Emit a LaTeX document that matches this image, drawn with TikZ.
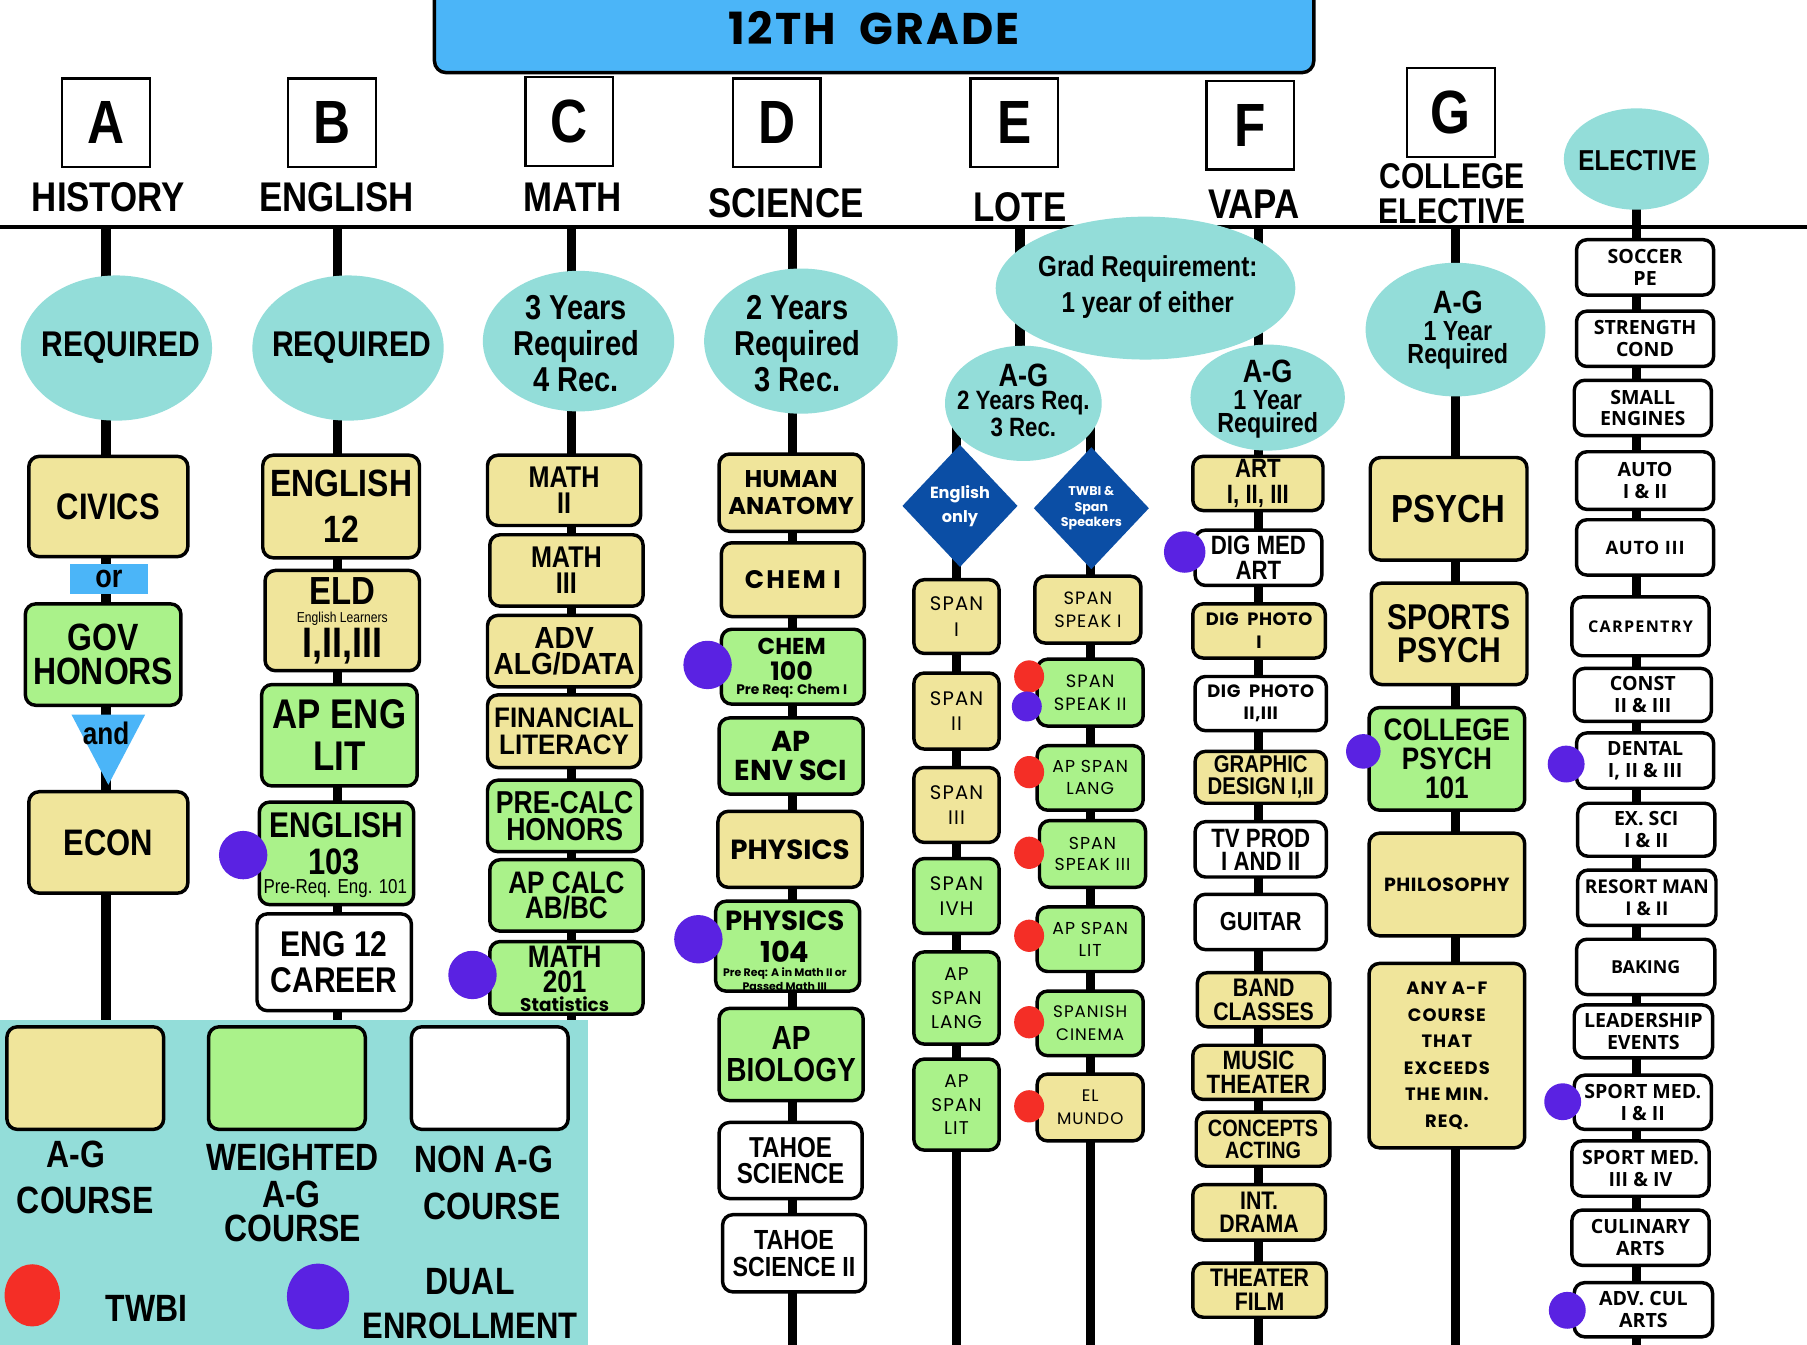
\documentclass[tikz,border=0pt]{standalone}
\usepackage{fontspec}
\usetikzlibrary{shapes.geometric,backgrounds}
\setmainfont{Liberation Sans}
\newfontfamily\fcond[FakeStretch=0.84]{Liberation Sans}
\newfontfamily\fsemi[FakeStretch=0.92]{Liberation Sans}
\newfontfamily\fgeo{Poppins}
\newfontfamily\fspan[LetterSpace=6]{Poppins}
\newfontfamily\ftitle[LetterSpace=5]{Poppins}
\newfontfamily\felec{Open Sans}
\newcommand\fsz[2]{\fontsize{#1}{#2}\selectfont}
\definecolor{agy}{HTML}{F0E59B}
\definecolor{wgr}{HTML}{AAF28A}
\definecolor{reqteal}{HTML}{93DDD9}
\definecolor{tblue}{HTML}{4BB5F8}
\definecolor{dblue}{HTML}{0B4EA5}
\definecolor{dualc}{HTML}{5A22E2}
\definecolor{twbic}{HTML}{F42E26}
\tikzset{
 crsbox/.style={draw=black, line width=3pt, rounded corners=9pt, align=center, inner sep=0pt},
 reqell/.style={ellipse, fill=reqteal, inner sep=0pt},
 letterbox/.style={draw=black, line width=2pt, fill=white, inner sep=0pt, minimum width=76, minimum height=77, font=\fcond\bfseries\fsz{53}{53}},
 spine/.style={line width=8pt, black},
 dualdot/.style={circle, fill=dualc, inner sep=0pt},
 twbidot/.style={ellipse, fill=twbic, inner sep=0pt, minimum width=26, minimum height=28},
 dia/.style={diamond, fill=dblue, text=white, inner sep=0pt, minimum width=100, minimum height=106, align=center},
 txt/.style={inner sep=0pt, align=center},
 head/.style={txt, font=\fcond\bfseries\fsz{36}{36}},
 leg/.style={txt, font=\fcond\bfseries\fsz{33}{33}},
}
% name, fill, x1, y1, x2, y2, font, text
\newcommand\course[8]{\node[crsbox, fill=#2, font={#7}, minimum width={#5-#3}, minimum height={#6-#4}] (#1) at ({(#3+#5)/2},{(#4+#6)/2}) {#8};}
\begin{document}
\begin{tikzpicture}[x=1pt,y=-1pt]
\useasboundingbox (0,0) rectangle (1568,1167);

% ---------- title ----------
\node[draw=black, line width=3pt, fill=tblue, rounded corners=10pt, minimum width=763, minimum height=78, inner sep=0pt, font=\ftitle\bfseries\fsz{38.5}{38}] (title) at (758.5,24) {12TH\ \ GRADE};

% ---------- headings ----------
\node[letterbox] (lA) at (92,106.5) {A};
\node[letterbox] (lB) at (288,106.5) {B};
\node[letterbox] (lC) at (494,105.5) {C};
\node[letterbox] (lD) at (674,106.5) {D};
\node[letterbox] (lE) at (880,106.5) {E};
\node[letterbox] (lF) at (1085,108.5) {F};
\node[letterbox] (lG) at (1259,97.5) {G};

\node[head] (hA) at (94,171) {HISTORY};
\node[head] (hB) at (292,171) {ENGLISH};
\node[head] (hC) at (497,171) {MATH};
\node[head] (hD) at (682,176) {SCIENCE};
\node[head] (hE) at (885,180) {LOTE};
\node[head] (hF) at (1088,177) {VAPA};
\node[txt, font=\fcond\bfseries\fsz{31}{30}] (hG) at (1260,168) {COLLEGE\\ELECTIVE};

% ---------- spines ----------
\coordinate (hl0) at (0,197);   \coordinate (hl1) at (1568,197);
\coordinate (tA) at (92,197);   \coordinate (bA) at (92,885);
\coordinate (tB) at (293,197);  \coordinate (bB) at (293,885);
\coordinate (tC) at (496,197);  \coordinate (bC) at (496,885);
\coordinate (tD) at (688,197);  \coordinate (bD) at (688,1167);
\coordinate (tE) at (885,197);  \coordinate (bE) at (885,350);
\coordinate (tEl) at (830,350); \coordinate (bEl) at (830,1167);
\coordinate (tEr) at (946,350); \coordinate (bEr) at (946,1167);
\coordinate (tF) at (1092,197); \coordinate (bF) at (1092,1167);
\coordinate (tG) at (1263,197); \coordinate (bG) at (1263,1167);
\coordinate (tH) at (1420,138); \coordinate (bH) at (1420,1167);
\begin{scope}[on background layer]
\fill[white] (0,0) rectangle (1568,1167);
\draw[line width=3pt] (hl0) -- (hl1);
\foreach \s in {A,B,C,D,E,El,Er,F,G,H} \draw[spine] (t\s) -- (b\s);
\end{scope}

% ---------- requirement ellipses ----------
\node[reqell, minimum width=166, minimum height=126] (rA) at (101,302) {};
\node[txt, font=\fcond\bfseries\fsz{31}{31}] (rAt) at (105,302) {REQUIRED};
\node[reqell, minimum width=166, minimum height=126] (rB) at (302,302) {};
\node[txt, font=\fcond\bfseries\fsz{31}{31}] (rBt) at (305,302) {REQUIRED};
\node[reqell, minimum width=166, minimum height=122] (rC) at (502,296) {};
\node[txt, font=\fcond\bfseries\fsz{30}{31}] (rCt) at (500,298) {3 Years\\Required\\4 Rec.};
\node[reqell, minimum width=168, minimum height=126] (rD) at (695,296) {};
\node[txt, font=\fcond\bfseries\fsz{30}{31}] (rDt) at (692,298) {2 Years\\Required\\3 Rec.};
\node[reqell, minimum width=260, minimum height=124] (grad) at (994,250) {};
\node[txt, font=\fcond\bfseries\fsz{25}{31}] (gradt) at (996,249) {Grad Requirement:\\1 year of either};
\node[reqell, minimum width=136, minimum height=100] (rE) at (888,350) {};
\node[txt, font=\fcond\bfseries\fsz{28}{28}] (rE1) at (888,326) {A-G};
\node[txt, font=\fcond\bfseries\fsz{23}{23}] (rE2) at (888,350) {2 Years Req.};
\node[txt, font=\fcond\bfseries\fsz{23}{23}] (rE3) at (888,371) {3 Rec.};
\node[reqell, minimum width=134, minimum height=92] (rF) at (1100,345) {};
\node[txt, font=\fcond\bfseries\fsz{28}{28}] (rF1) at (1100,322) {A-G};
\node[txt, font=\fcond\bfseries\fsz{24}{24}] (rF2) at (1100,347) {1 Year};
\node[txt, font=\fcond\bfseries\fsz{24}{24}] (rF3) at (1100,369) {Required};
\node[reqell, minimum width=156, minimum height=116] (rG) at (1263,286) {};
\node[txt, font=\fcond\bfseries\fsz{28}{28}] (rG1) at (1265,262) {A-G};
\node[txt, font=\fcond\bfseries\fsz{24}{24}] (rG2) at (1265,287) {1 Year};
\node[txt, font=\fcond\bfseries\fsz{24}{24}] (rG3) at (1265,309) {Required};
\node[reqell, minimum width=126, minimum height=88] (rH) at (1420,138) {};
\node[txt, font=\fcond\bfseries\fsz{25}{25}] (rHt) at (1421,139) {ELECTIVE};

% ---------- column A ----------
\course{civics}{agy}{25}{396}{163}{483}{\fcond\bfseries\fsz{32}{32}}{CIVICS}
\node[fill=tblue, minimum width=67, minimum height=26, inner sep=0pt, font=\fcond\bfseries\fsz{28}{28}] (orbox) at (94.5,502) {or};
\course{gov}{wgr}{22}{524}{157}{612}{\fcond\bfseries\fsz{33}{29}}{GOV\\HONORS}
\fill[tblue] (62,620) -- (126,620) -- (94,681) -- cycle;
\node[txt, font=\fcond\bfseries\fsz{27}{27}] (andtxt) at (92,636) {and};
\course{econ}{agy}{25}{687}{163}{775}{\fcond\bfseries\fsz{32}{32}}{ECON}

% ---------- column B ----------
\course{eng12}{agy}{228}{395}{364}{484}{\fcond\bfseries\fsz{33}{40}}{ENGLISH\\12}
\course{eld}{agy}{230}{495}{364}{582}{}{}
\node[txt, font=\fcond\bfseries\fsz{34}{34}] (eld1) at (297,513) {ELD};
\node[txt, font=\fcond\fsz{12.5}{12.5}] (eld2) at (297,537) {English Learners};
\node[txt, font=\fcond\bfseries\fsz{37}{37}] (eld3) at (297,561) {I,II,III};
\course{apeng}{wgr}{227}{594}{362}{682}{\fcond\bfseries\fsz{36}{36}}{AP ENG\\LIT}
\course{eng103}{wgr}{225}{696}{359}{785}{}{}
\node[txt, font=\fcond\bfseries\fsz{31}{31}] (e103a) at (292,716) {ENGLISH};
\node[txt, font=\fcond\bfseries\fsz{32}{32}] (e103b) at (290,748) {103};
\node[txt, font=\fcond\fsz{17.5}{17.5}] (e103c) at (291,771) {Pre-Req. Eng. 101};
\course{career}{white}{223}{793}{357}{877}{\fcond\bfseries\fsz{31}{31}}{ENG 12\\CAREER}

% ---------- column C ----------
\course{m2}{agy}{423}{395}{556}{456}{\fcond\bfseries\fsz{26}{22.5}}{MATH\\II}
\course{m3}{agy}{425}{464}{558}{526}{\fcond\bfseries\fsz{26}{22.5}}{MATH\\III}
\course{adv}{agy}{423}{534}{556}{596}{\fsemi\bfseries\fsz{26.5}{22.5}}{ADV\\ALG/DATA}
\course{fin}{agy}{423}{603}{556}{666}{\fsemi\bfseries\fsz{24.5}{24}}{FINANCIAL\\LITERACY}
\course{pre}{wgr}{423}{677}{557}{739}{\fcond\bfseries\fsz{27.5}{24}}{PRE-CALC\\HONORS}
\course{apcalc}{wgr}{425}{746}{558}{808}{\fcond\bfseries\fsz{27}{22.5}}{AP CALC\\AB/BC}
\course{m201}{wgr}{425}{817}{558}{880}{}{}
\node[txt, font=\fcond\bfseries\fsz{27}{27}] (m201a) at (490,830) {MATH};
\node[txt, font=\fcond\bfseries\fsz{27}{27}] (m201b) at (490,852) {201};
\node[txt, font=\fgeo\bfseries\fsz{16}{16}] (m201c) at (490,871) {Statistics};

% ---------- column D ----------
\course{hum}{agy}{624}{394}{749}{461}{\fgeo\bfseries\fsz{21}{23}}{HUMAN\\ANATOMY}
\course{chem1}{agy}{626}{471}{750}{535}{\fgeo\bfseries\addfontfeature{LetterSpace=8}\fsz{22}{22}}{CHEM I}
\course{chem100}{wgr}{626}{546}{750}{611}{}{}
\node[txt, font=\fgeo\bfseries\fsz{20}{20}] (c100a) at (687,561) {CHEM};
\node[txt, font=\fgeo\bfseries\fsz{22}{22}] (c100b) at (687,582) {100};
\node[txt, font=\fgeo\bfseries\fsz{12}{12}] (c100c) at (687,600) {Pre Req: Chem I};
\course{apenv}{wgr}{624}{623}{749}{689}{\fgeo\bfseries\fsz{25}{25}}{AP\\ENV SCI}
\course{phys}{agy}{623}{704}{748}{770}{\fgeo\bfseries\fsz{24}{24}}{PHYSICS}
\course{phys104}{wgr}{621}{782}{746}{860}{}{}
\node[txt, font=\fgeo\bfseries\fsz{24}{24}] (p104a) at (681,799) {PHYSICS};
\node[txt, font=\fgeo\bfseries\fsz{25}{25}] (p104b) at (681,826) {104};
\node[txt, font=\fgeo\bfseries\fsz{9.5}{9.5}] (p104c) at (681,845) {Pre Req: A in Math II or};
\node[txt, font=\fgeo\bfseries\fsz{9.5}{9.5}] (p104d) at (681,856) {Passed Math III};
\course{apbio}{wgr}{624}{875}{749}{955}{\fcond\bfseries\fsz{29}{28}}{AP\\BIOLOGY}
\course{tahoe}{white}{624}{974}{748}{1040}{\fcond\bfseries\fsz{25}{23}}{TAHOE\\SCIENCE}
\course{tahoe2}{white}{627}{1054}{751}{1121}{\fcond\bfseries\fsz{24}{23}}{TAHOE\\SCIENCE II}

% ---------- column E ----------
\node[dia, font=\fgeo\bfseries\fsz{14}{21}] (engonly) at (833,439) {English\\only};
\node[dia, font=\fgeo\bfseries\fsz{11}{13.5}] (twbisp) at (947,441) {TWBI \&\\Span\\Speakers};
\course{sp1}{agy}{793}{503}{867}{567}{\fspan\fsz{17}{22}}{SPAN\\I}
\course{sp2}{agy}{793}{584}{867}{650}{\fspan\fsz{17}{22}}{SPAN\\II}
\course{sp3}{agy}{793}{666}{867}{731}{\fspan\fsz{17}{22}}{SPAN\\III}
\course{sp4}{wgr}{793}{745}{867}{810}{\fspan\fsz{17}{22}}{SPAN\\IVH}
\course{spl}{wgr}{793}{826}{867}{906}{\fspan\fsz{16}{20.5}}{AP\\SPAN\\LANG}
\course{split}{wgr}{793}{919}{867}{998}{\fspan\fsz{16}{20}}{AP\\SPAN\\LIT}
\course{ss1}{agy}{898}{500}{990}{558}{\fspan\fsz{15.5}{20}}{SPAN\\SPEAK I}
\course{ss2}{wgr}{900}{572}{992}{630}{\fspan\fsz{15.5}{20}}{SPAN\\SPEAK II}
\course{apsl}{wgr}{900}{647}{992}{703}{\fspan\fsz{15}{19}}{AP SPAN\\LANG}
\course{ss3}{wgr}{902}{712}{994}{770}{\fspan\fsz{15}{19}}{SPAN\\SPEAK III}
\course{apslit}{wgr}{900}{787}{992}{843}{\fspan\fsz{15}{19}}{AP SPAN\\LIT}
\course{cinema}{wgr}{900}{860}{992}{916}{\fspan\fsz{14.5}{20}}{SPANISH\\CINEMA}
\course{mundo}{agy}{900}{932}{992}{990}{\fspan\fsz{14.5}{20}}{EL\\MUNDO}

% ---------- column F ----------
\course{art}{agy}{1035}{396}{1148}{443}{\fcond\bfseries\fsz{23}{22}}{ART\\I, II, III}
\course{digmed}{white}{1037}{460}{1147}{508}{\fcond\bfseries\fsz{23}{21}}{DIG MED\\ART}
\course{dig1}{agy}{1035}{524}{1150}{571}{\fgeo\bfseries\addfontfeature{LetterSpace=3}\fsz{15.5}{20}}{DIG\ \ PHOTO\\I}
\course{dig2}{white}{1037}{587}{1151}{634}{\fgeo\bfseries\addfontfeature{LetterSpace=3}\fsz{15.5}{19}}{DIG\ \ PHOTO\\II,III}
\course{graphic}{agy}{1037}{652}{1151}{697}{\fcond\bfseries\fsz{21}{19}}{GRAPHIC\\DESIGN I,II}
\course{tv}{white}{1037}{713}{1151}{761}{\fcond\bfseries\fsz{23}{20}}{TV PROD\\I AND II}
\course{guitar}{white}{1037}{776}{1151}{824}{\fcond\bfseries\fsz{22.5}{22}}{GUITAR}
\course{band}{agy}{1039}{844}{1154}{891}{\fcond\bfseries\fsz{22}{21}}{BAND\\CLASSES}
\course{music}{agy}{1035}{907}{1149}{954}{\fcond\bfseries\fsz{23}{21}}{MUSIC\\THEATER}
\course{concepts}{agy}{1038}{965}{1154}{1012}{\fcond\bfseries\fsz{20.5}{19}}{CONCEPTS\\ACTING}
\course{drama}{agy}{1035}{1028}{1150}{1076}{\fcond\bfseries\fsz{22}{20}}{INT.\\DRAMA}
\course{film}{agy}{1035}{1096}{1151}{1143}{\fcond\bfseries\fsz{22}{21}}{THEATER\\FILM}

% ---------- column G ----------
\course{psych}{agy}{1189}{397}{1325}{486}{\fcond\bfseries\fsz{34}{34}}{PSYCH}
\course{spsych}{agy}{1190}{506}{1325}{594}{\fcond\bfseries\fsz{31}{29}}{SPORTS\\PSYCH}
\course{cpsych}{wgr}{1188}{614}{1323}{703}{\fcond\bfseries\fsz{27}{25}}{COLLEGE\\PSYCH\\101}
\course{philo}{agy}{1188}{723}{1323}{812}{\fgeo\bfseries\addfontfeature{LetterSpace=3}\fsz{16.5}{16.5}}{PHILOSOPHY}
\course{anyaf}{agy}{1188}{836}{1323}{996}{\fgeo\bfseries\addfontfeature{LetterSpace=6}\fsz{15.5}{23}}{ANY A-F\\COURSE\\THAT\\EXCEEDS\\THE MIN.\\REQ.}

% ---------- electives ----------
\course{soccer}{white}{1368}{208}{1487}{256}{\felec\bfseries\fsz{17}{19}}{SOCCER\\PE}
\course{strength}{white}{1368}{270}{1487}{318}{\felec\bfseries\fsz{17}{19}}{STRENGTH\\COND}
\course{small}{white}{1366}{330}{1485}{378}{\felec\bfseries\fsz{17}{19}}{SMALL\\ENGINES}
\course{auto12}{white}{1368}{392}{1487}{442}{\felec\bfseries\fsz{17}{19}}{AUTO\\I \& II}
\course{auto3}{white}{1368}{451}{1487}{499}{\felec\bfseries\addfontfeature{LetterSpace=4}\fsz{16}{19}}{AUTO III}
\course{carp}{white}{1364}{518}{1483}{569}{\felec\bfseries\addfontfeature{LetterSpace=8}\fsz{14}{19}}{CARPENTRY}
\course{const}{white}{1366}{580}{1485}{626}{\felec\bfseries\fsz{17}{19}}{CONST\\II \& III}
\course{dental}{white}{1368}{636}{1487}{684}{\felec\bfseries\fsz{17}{19}}{DENTAL\\I, II \& III}
\course{exsci}{white}{1369}{697}{1488}{743}{\felec\bfseries\fsz{17}{19}}{EX. SCI\\I \& II}
\course{resort}{white}{1369}{755}{1489}{803}{\felec\bfseries\fsz{16.5}{19}}{RESORT MAN\\I \& II}
\course{baking}{white}{1368}{815}{1488}{863}{\felec\bfseries\fsz{15.5}{19}}{BAKING}
\course{leader}{white}{1366}{872}{1486}{918}{\felec\bfseries\fsz{17}{19}}{LEADERSHIP\\EVENTS}
\course{spmed1}{white}{1366}{933}{1485}{980}{\felec\bfseries\fsz{17}{19}}{SPORT MED.\\I \& II}
\course{spmed3}{white}{1364}{990}{1483}{1038}{\felec\bfseries\fsz{17}{19}}{SPORT MED.\\III \& IV}
\course{culin}{white}{1364}{1050}{1483}{1098}{\felec\bfseries\fsz{17}{19}}{CULINARY\\ARTS}
\course{advcul}{white}{1366}{1113}{1486}{1160}{\felec\bfseries\fsz{17}{19}}{ADV. CUL\\ARTS}

% ---------- dots ----------
\node[dualdot, minimum size=42] (du1) at (211,742) {};
\node[dualdot, minimum size=42] (du2) at (410,846) {};
\node[dualdot, minimum size=42] (du3) at (614,577) {};
\node[dualdot, minimum size=42] (du4) at (606,815) {};
\node[dualdot, minimum size=36] (du5) at (1028,479) {};
\node[dualdot, minimum size=30] (du6) at (1183,652) {};
\node[dualdot, minimum size=32] (du7) at (1359,663) {};
\node[dualdot, minimum size=32] (du8) at (1356,956) {};
\node[dualdot, minimum size=32] (du9) at (1360,1137) {};
\node[twbidot] (tw1) at (893,587) {};
\node[dualdot, minimum size=26] (du10) at (891,613) {};
\node[twbidot] (tw2) at (893,670) {};
\node[twbidot] (tw3) at (893,740) {};
\node[twbidot] (tw4) at (893,812) {};
\node[twbidot] (tw5) at (893,887) {};
\node[twbidot] (tw6) at (893,960) {};

% ---------- legend ----------
\node[fill=reqteal, minimum width=510, minimum height=282, inner sep=0pt, anchor=north west] (legend) at (0,885) {};
\course{legAG}{agy}{6}{891}{142}{980}{}{}
\course{legW}{wgr}{181}{891}{317}{980}{}{}
\course{legN}{white}{357}{891}{493}{980}{}{}
\node[leg] (lgA1) at (66,1002) {A-G};
\node[leg] (lgA2) at (74,1042) {COURSE};
\node[leg] (lgW1) at (254,1004) {WEIGHTED};
\node[leg] (lgW2) at (253,1036) {A-G};
\node[leg] (lgW3) at (254,1066) {COURSE};
\node[leg] (lgN1) at (420,1006) {NON A-G};
\node[leg] (lgN2) at (427,1047) {COURSE};
\node[ellipse, fill=twbic, inner sep=0pt, minimum width=48, minimum height=54] (lgRed) at (28,1124) {};
\node[leg] (lgT) at (127,1135) {TWBI};
\node[ellipse, fill=dualc, inner sep=0pt, minimum width=54, minimum height=57] (lgPur) at (276,1125) {};
\node[leg] (lgD1) at (408,1112) {DUAL};
\node[leg, font=\fcond\bfseries\fsz{32}{32}] (lgD2) at (408,1150) {ENROLLMENT};
\end{tikzpicture}
\end{document}
